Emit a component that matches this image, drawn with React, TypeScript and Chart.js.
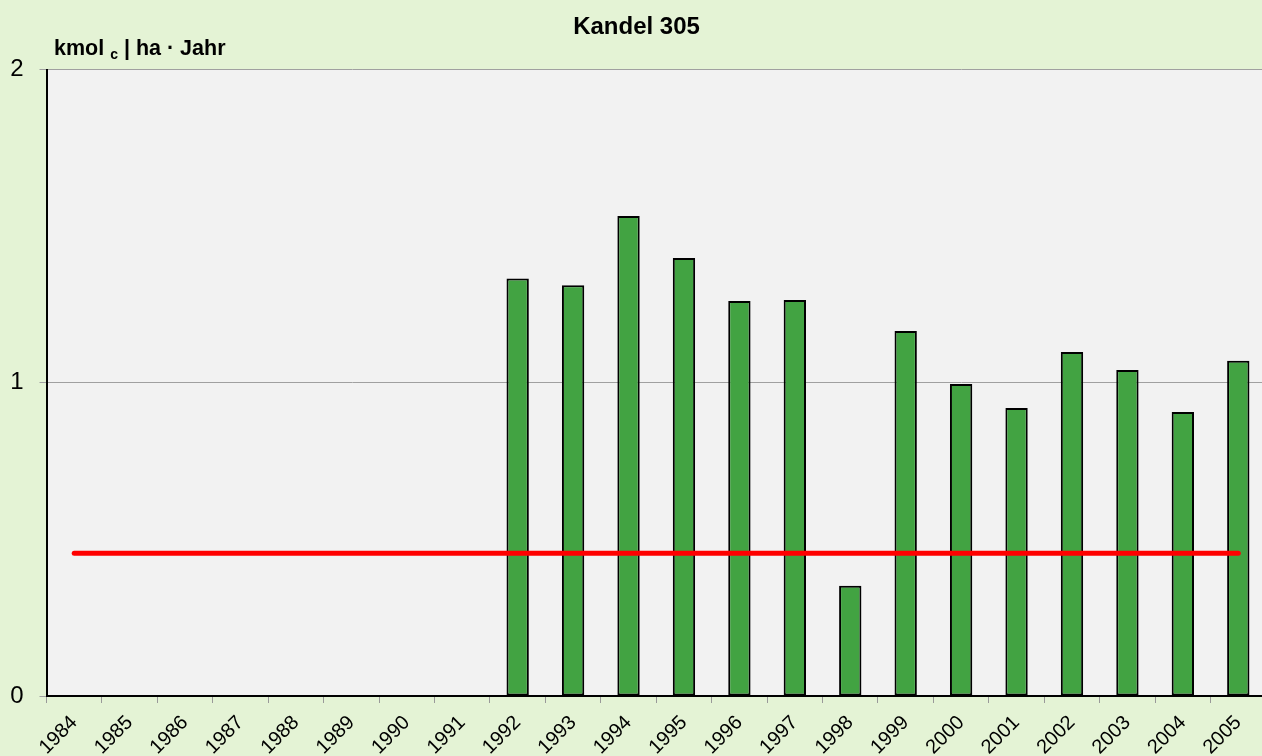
import React, { useEffect, useRef } from "react";
import { Chart, registerables } from "chart.js";

Chart.register(...registerables);

const years: string[] = [
  "1984", "1985", "1986", "1987", "1988", "1989", "1990", "1991", "1992", "1993", "1994",
  "1995", "1996", "1997", "1998", "1999", "2000", "2001", "2002", "2003", "2004", "2005",
];
const depositionValues: (number | null)[] = [
  null, null, null, null, null, null, null, null,
  1.333, 1.311, 1.532, 1.398, 1.261, 1.264, 0.352, 1.165, 0.996, 0.919, 1.098, 1.041, 0.907, 1.070,
];
const referenceLevel = 0.456;
const referenceValues: number[] = years.map(() => referenceLevel);
const yTicks: number[] = [0, 1, 2];
const titleText = "Kandel 305";

const FONT = "'Liberation Sans', Arial, Helvetica, sans-serif";

const decorPlugin = {
  id: "decor",
  beforeDraw(chart: any) {
    const { ctx, chartArea, width, height } = chart;
    ctx.save();
    ctx.fillStyle = "#e4f3d5";
    ctx.fillRect(0, 0, width, height);
    ctx.fillStyle = "#f2f2f2";
    ctx.fillRect(chartArea.left, chartArea.top, chartArea.right - chartArea.left, chartArea.bottom - chartArea.top);
    ctx.restore();
  },
  afterDraw(chart: any) {
    const { ctx } = chart;
    ctx.save();
    ctx.fillStyle = "#000";
    ctx.textBaseline = "alphabetic";
    ctx.textAlign = "center";
    ctx.font = `bold 24px ${FONT}`;
    ctx.fillText(titleText, 636.5, 34);
    // y axis unit label with subscript
    ctx.textAlign = "left";
    let x = 54;
    const base = 55;
    ctx.font = `bold 21.5px ${FONT}`;
    ctx.fillText("kmol ", x, base);
    x += ctx.measureText("kmol ").width;
    ctx.font = `bold 14px ${FONT}`;
    ctx.fillText("c", x, base + 4);
    x += ctx.measureText("c").width;
    ctx.font = `bold 21.5px ${FONT}`;
    ctx.fillText(" | ha · Jahr", x, base);
    ctx.restore();
  },
};

export default function App() {
  const canvasRef = useRef<HTMLCanvasElement | null>(null);

  useEffect(() => {
    const canvas = canvasRef.current;
    if (!canvas) return;
    const chart = new Chart(canvas, {
      type: "bar",
      data: {
        labels: years,
        datasets: [
          {
            type: "line",
            label: "Referenz",
            data: referenceValues,
            borderColor: "#ff0000",
            borderWidth: 5,
            borderCapStyle: "round",
            pointRadius: 0,
            fill: false,
            order: 0,
          } as any,
          {
            type: "bar",
            label: "Kandel 305",
            data: depositionValues,
            backgroundColor: "#42a342",
            borderColor: "#000000",
            borderWidth: 2,
            borderSkipped: false,
            categoryPercentage: 1,
            barPercentage: 0.403,
            order: 1,
          } as any,
        ],
      },
      options: {
        animation: false,
        responsive: false,
        maintainAspectRatio: false,
        devicePixelRatio: 1,
        layout: { padding: { top: 69.5, left: 0, right: 0, bottom: 0 } },
        plugins: {
          legend: { display: false },
          title: { display: false },
          tooltip: { enabled: false },
        },
        scales: {
          x: {
            type: "category",
            offset: true,
            grid: {
              offset: true,
              drawOnChartArea: false,
              drawTicks: true,
              tickLength: 7,
              color: "#999999",
              lineWidth: 1,
            },
            border: { color: "#000000", width: 2 },
            ticks: {
              autoSkip: false,
              minRotation: 45,
              maxRotation: 45,
              color: "#000000",
              padding: 8,
              font: { family: FONT, size: 20 },
            },
            afterFit(scale: any) {
              scale.height = 60;
              scale.paddingLeft = 0;
              scale.paddingRight = 0;
            },
          } as any,
          y: {
            min: 0,
            max: 2,
            afterBuildTicks(scale: any) {
              scale.ticks = yTicks.map((v) => ({ value: v }));
            },
            grid: {
              color: "#a0a0a0",
              lineWidth: 1,
              drawTicks: true,
              tickLength: 7,
            },
            border: { color: "#000000", width: 2 },
            ticks: {
              color: "#000000",
              padding: 16,
              font: { family: FONT, size: 24 },
            },
            afterFit(scale: any) {
              scale.width = 46.5;
              scale.paddingTop = 0;
              scale.paddingBottom = 0;
            },
          } as any,
        },
      } as any,
      plugins: [decorPlugin],
    });
    return () => chart.destroy();
  }, []);

  return (
    <div style={{ position: "fixed", left: 0, top: 0, width: 1262, height: 756, overflow: "hidden", background: "#e4f3d5" }}>
      <canvas ref={canvasRef} width={1266} height={756} style={{ display: "block", width: 1266, height: 756 }} />
    </div>
  );
}
